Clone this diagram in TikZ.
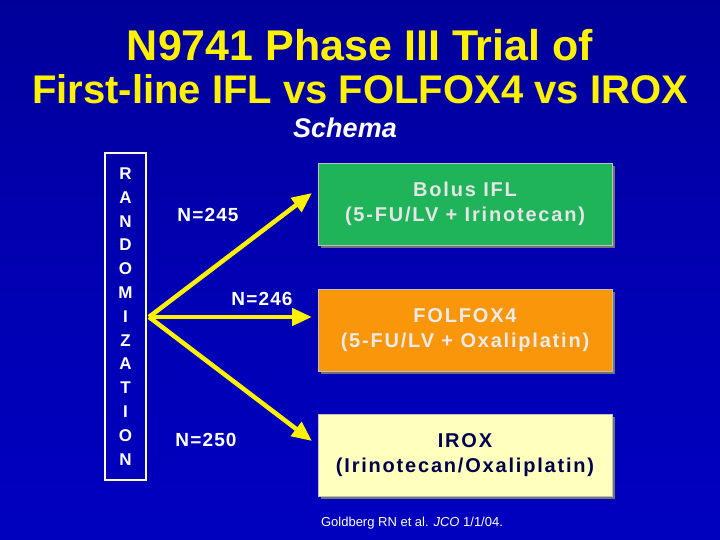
\documentclass[tikz,border=0pt]{standalone}
\usepackage{fontspec}
\setmainfont{Liberation Sans}
\usetikzlibrary{arrows.meta}
\definecolor{gbox}{RGB}{32,180,90}
\definecolor{obox}{RGB}{250,150,10}
\definecolor{ybox}{RGB}{255,255,190}
\begin{document}
\begin{tikzpicture}[x=1pt,y=-1pt,
  arm/.style={draw=yellow,line width=4.5pt,-{Triangle[length=20pt,width=17pt]}},
  armbox/.style={minimum width=294pt,minimum height=82pt,align=center,font=\bfseries\fontsize{20}{25}\selectfont\addfontfeature{LetterSpace=9},draw=black!25,line width=0.6pt},
  nlab/.style={text=white,font=\bfseries\fontsize{19}{22}\selectfont\addfontfeature{LetterSpace=6}}]
\shade[top color=blue!60!black,bottom color=blue!75!black,middle color=blue!70!black] (0,0) rectangle (720,540);
\useasboundingbox (0,0) rectangle (720,540);
\node[text=yellow,font=\bfseries\fontsize{43}{45}\selectfont] (t1) at (360,45) {N9741 Phase III Trial of};
\node[text=yellow,font=\bfseries\fontsize{40}{44}\selectfont] (t2) at (360,89) {First-line IFL vs FOLFOX4 vs IROX};
\node[text=white,font=\bfseries\itshape\fontsize{27}{30}\selectfont] (t3) at (345,128) {Schema};
\node[draw=white!85!yellow,line width=1.2pt,minimum width=41pt,minimum height=327pt,align=center,text=white,font=\bfseries\fontsize{17}{23.8}\selectfont] (r) at (125.5,316.5) {R\\A\\N\\D\\O\\M\\I\\Z\\A\\T\\I\\O\\N};
\foreach \y/\n/\c/\t/\txt in {204/g/gbox/white!90!black/{Bolus IFL\\(5-FU/LV + Irinotecan)},330/o/obox/white!92!black/{FOLFOX4\\(5-FU/LV + Oxaliplatin)},455/y/ybox/blue!30!black/{IROX\\(Irinotecan/Oxaliplatin)}}{
  \fill[black!55] (321,\y-38) rectangle (615,\y+44);
  \node[armbox,fill=\c,text=\t] (\n) at (465,\y) {\txt};
}
\coordinate (s) at (149,317);
\draw[arm] (s) -- (312,193);
\draw[arm] (s) -- (312,317);
\draw[arm] (s) -- (312,441);
\node[nlab] (n1) at (208,215) {N=245};
\node[nlab] (n2) at (262,299) {N=246};
\node[nlab] (n3) at (206,440) {N=250};
\node[text=white,font=\fontsize{13}{15}\selectfont] (c) at (412,523) {Goldberg RN et al. \textit{JCO} 1/1/04.};
\end{tikzpicture}
\end{document}
